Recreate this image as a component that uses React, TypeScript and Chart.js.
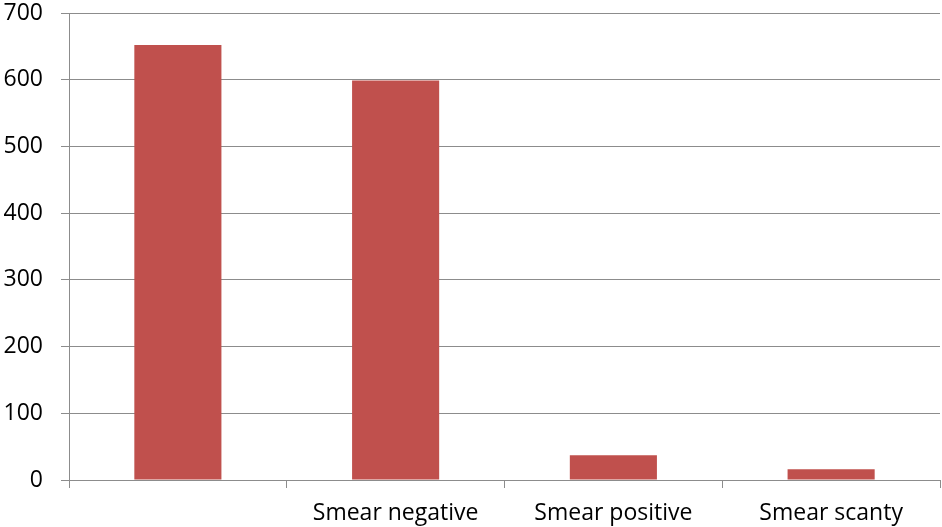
import React, { useEffect, useRef } from "react";
import { Chart, registerables } from "chart.js";

Chart.register(...registerables);

const categories = ["", "Smear negative", "Smear positive", "Smear scanty"];
const values = [652, 599, 37, 16];
const yTicks = [0, 100, 200, 300, 400, 500, 600, 700];

export default function App() {
  const ref = useRef<HTMLCanvasElement | null>(null);
  useEffect(() => {
    if (!ref.current) return;
    const font = { family: "'Open Sans', 'Liberation Sans', sans-serif", size: 23 };
    const chart = new Chart(ref.current, {
      type: "bar",
      data: {
        labels: categories,
        datasets: [
          {
            data: values,
            backgroundColor: "#C0504D",
            borderWidth: 0,
            categoryPercentage: 1,
            barPercentage: 0.4,
          },
        ],
      },
      options: {
        animation: false,
        responsive: false,
        maintainAspectRatio: false,
        layout: { padding: { top: 13, right: 2, left: 0, bottom: 0 } },
        plugins: { legend: { display: false }, tooltip: { enabled: false } },
        scales: {
          x: {
            grid: {
              offset: true,
              drawOnChartArea: false,
              drawTicks: true,
              tickLength: 8,
              color: "#8c8c8c",
            },
            border: { color: "#8c8c8c", width: 1 },
            ticks: { color: "#000", font, padding: 12, maxRotation: 0, autoSkip: false },
            afterFit: (s: any) => {
              s.height = 47;
              s.paddingLeft = 0;
              s.paddingRight = 0;
            },
          },
          y: {
            min: 0,
            max: 700,
            afterBuildTicks: (s: any) => {
              s.ticks = yTicks.map((v) => ({ value: v }));
            },
            grid: { color: "#8c8c8c", tickLength: 8, drawTicks: true },
            border: { color: "#8c8c8c", width: 1 },
            ticks: { color: "#000", font, padding: 18 },
            afterFit: (s: any) => {
              s.width = 69;
              s.paddingTop = 0;
              s.paddingBottom = 0;
            },
          },
        },
      },
    });
    return () => chart.destroy();
  }, []);
  return (
    <div style={{ position: "fixed", left: 0, top: 0, width: 942, height: 527, background: "#fff" }}>
      <canvas ref={ref} width={942} height={527} style={{ width: 942, height: 527 }} />
    </div>
  );
}
